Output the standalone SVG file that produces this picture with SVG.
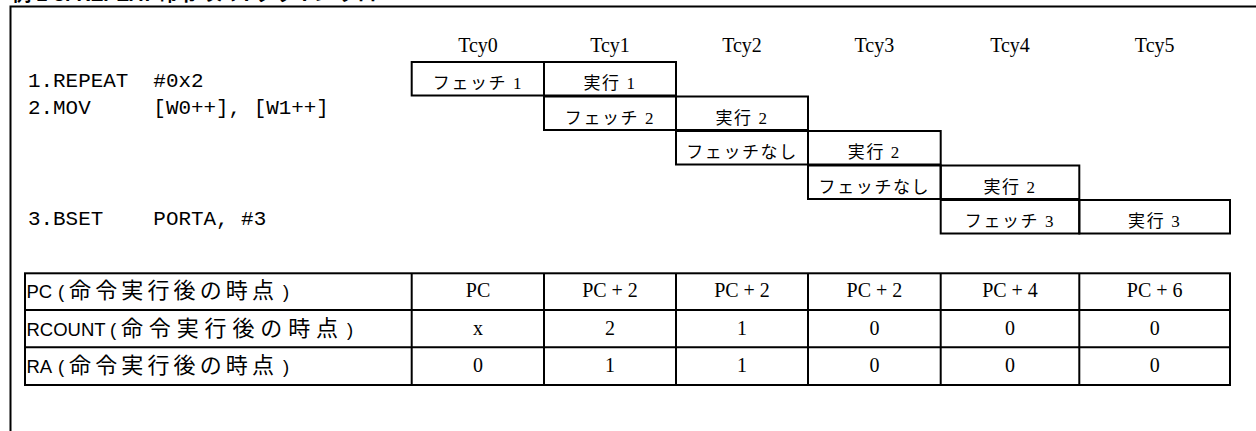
<svg xmlns="http://www.w3.org/2000/svg" width="1256" height="431" viewBox="0 0 1256 431">
<style>
.box{fill:none;stroke:#000;stroke-width:2}
.ln{stroke:#000;stroke-width:2;fill:none}
.ser{font-family:"Liberation Serif","Noto Sans CJK JP",serif;font-size:20px;text-anchor:middle;fill:#000}
.cell{font-family:"Liberation Serif","Noto Sans CJK JP",serif;font-size:17px;letter-spacing:1.6px;text-anchor:middle;fill:#000}
.mono{font-family:"Liberation Mono",monospace;font-size:20.9px;fill:#000}
.lbl{font-family:"Liberation Sans","Noto Sans CJK JP",sans-serif;font-size:18.5px;fill:#000}
.jp{font-size:22px}
.title{font-family:"Liberation Sans","Noto Sans CJK JP",sans-serif;font-size:20px;font-weight:bold;fill:#000}
</style>
<rect width="1256" height="431" fill="#fff"/>
<text class="title" x="12" y="1" textLength="384" lengthAdjust="spacingAndGlyphs">例 2-3: REPEAT 命令のパイプライン フロー</text>
<path class="ln" d="M10.5,431 V6.5 H1256"/>

<g id="cycles">
<text class="ser" x="478" y="52">Tcy0</text>
<text class="ser" x="610" y="52">Tcy1</text>
<text class="ser" x="742" y="52">Tcy2</text>
<text class="ser" x="874.4" y="52">Tcy3</text>
<text class="ser" x="1010" y="52">Tcy4</text>
<text class="ser" x="1154.7" y="52">Tcy5</text>
</g>

<g id="instructions">
<text class="mono" x="28" y="87" xml:space="preserve">1.REPEAT  #0x2</text>
<text class="mono" x="28" y="113.5" xml:space="preserve">2.MOV     [W0++], [W1++]</text>
<text class="mono" x="28" y="225" xml:space="preserve">3.BSET    PORTA, #3</text>
</g>

<g id="pipeline">
<g id="r1f"><rect class="box" x="411.7" y="62" width="132.3" height="33.5"/><text class="cell" x="478" y="89">フェッチ 1</text></g>
<g id="r1e"><rect class="box" x="544" y="62" width="132" height="33.5"/><text class="cell" x="610" y="89">実行 1</text></g>
<g id="r2f"><rect class="box" x="544" y="96.5" width="132" height="33.5"/><text class="cell" x="610" y="123.5">フェッチ 2</text></g>
<g id="r2e"><rect class="box" x="676" y="96.5" width="132" height="33.5"/><text class="cell" x="742" y="123.5">実行 2</text></g>
<g id="r3f"><rect class="box" x="676" y="131" width="132" height="33.5"/><text class="cell" x="742" y="158">フェッチなし</text></g>
<g id="r3e"><rect class="box" x="808" y="131" width="132.7" height="33.5"/><text class="cell" x="874.4" y="158">実行 2</text></g>
<g id="r4f"><rect class="box" x="808" y="165.5" width="132.7" height="33.5"/><text class="cell" x="874.4" y="192.5">フェッチなし</text></g>
<g id="r4e"><rect class="box" x="940.7" y="165.5" width="138.6" height="33.5"/><text class="cell" x="1010" y="192.5">実行 2</text></g>
<g id="r5f"><rect class="box" x="940.7" y="200" width="138.6" height="33.5"/><text class="cell" x="1010" y="227">フェッチ 3</text></g>
<g id="r5e"><rect class="box" x="1079.3" y="200" width="150.7" height="33.5"/><text class="cell" x="1154.7" y="227">実行 3</text></g>
</g>

<g id="table">
<rect class="box" x="25" y="273.3" width="1205" height="111.7"/>
<path class="ln" d="M25,310 H1230 M25,347.3 H1230 M411.7,273.3 V385 M544,273.3 V385 M676,273.3 V385 M808,273.3 V385 M940.7,273.3 V385 M1079.3,273.3 V385"/>
<g id="row-pc">
<text class="lbl" x="26.5" y="298">PC<tspan x="58">(</tspan><tspan class="jp" x="69" textLength="205" lengthAdjust="spacing">命令実行後の時点</tspan><tspan x="283">)</tspan></text>
<text class="ser" x="478" y="297">PC</text>
<text class="ser" x="610" y="297">PC + 2</text>
<text class="ser" x="742" y="297">PC + 2</text>
<text class="ser" x="874.4" y="297">PC + 2</text>
<text class="ser" x="1010" y="297">PC + 4</text>
<text class="ser" x="1154.7" y="297">PC + 6</text>
</g>
<g id="row-rcount">
<text class="lbl" x="26.5" y="335.5">RCOUNT<tspan x="110">(</tspan><tspan class="jp" x="121" textLength="217" lengthAdjust="spacing">命令実行後の時点</tspan><tspan x="347">)</tspan></text>
<text class="ser" x="478" y="334.5">x</text>
<text class="ser" x="610" y="334.5">2</text>
<text class="ser" x="742" y="334.5">1</text>
<text class="ser" x="874.4" y="334.5">0</text>
<text class="ser" x="1010" y="334.5">0</text>
<text class="ser" x="1154.7" y="334.5">0</text>
</g>
<g id="row-ra">
<text class="lbl" x="26.5" y="373">RA<tspan x="58">(</tspan><tspan class="jp" x="69" textLength="205" lengthAdjust="spacing">命令実行後の時点</tspan><tspan x="283">)</tspan></text>
<text class="ser" x="478" y="372">0</text>
<text class="ser" x="610" y="372">1</text>
<text class="ser" x="742" y="372">1</text>
<text class="ser" x="874.4" y="372">0</text>
<text class="ser" x="1010" y="372">0</text>
<text class="ser" x="1154.7" y="372">0</text>
</g>
</g>
<g id="connectors"/>
</svg>
